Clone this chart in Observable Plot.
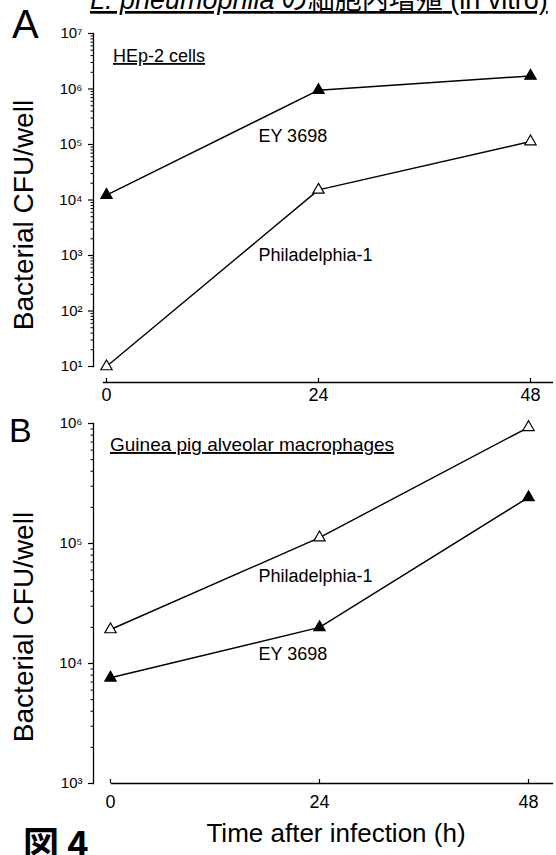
<!DOCTYPE html>
<html><head><meta charset="utf-8">
<script src="https://cdn.jsdelivr.net/npm/d3@7"></script>
<script src="https://cdn.jsdelivr.net/npm/@observablehq/plot@0.6"></script>
<style>
body{margin:0;background:#fff;}
#page{position:relative;width:556px;height:855px;overflow:hidden;background:#fff;}
#page svg{position:absolute;left:0;background:transparent;}
</style></head><body><div id="page"></div>
<script>
// ---- data ----
const hours = [0, 24, 48];
const strains = ["EY 3698", "Philadelphia-1"];
// Panel A: HEp-2 cells (CFU/well)
const hepEY = [1.23e4, 9.5e5, 1.72e6];
const hepPhil = [10, 1.52e4, 1.13e5];
// Panel B: Guinea pig alveolar macrophages (CFU/well)
const gpEY = [7.6e3, 2.0e4, 2.42e5];
const gpPhil = [1.92e4, 1.12e5, 9.3e5];
// axis ticks
const yTicksA = [1e1, 1e2, 1e3, 1e4, 1e5, 1e6, 1e7];
const yTicksB = [1e3, 1e4, 1e5, 1e6];
// curve labels (annotation anchor in data units)
const labelsA = [{label: "EY 3698", t: 17.2, cfu: 1.4e5}, {label: "Philadelphia-1", t: 17.2, cfu: 1.0e3}];
const labelsB = [{label: "Philadelphia-1", t: 17.0, cfu: 5.3e4}, {label: "EY 3698", t: 17.0, cfu: 1.19e4}];
const titleA = "HEp-2 cells";
const titleB = "Guinea pig alveolar macrophages";
const yLabel = "Bacterial CFU/well";
const xLabel = "Time after infection (h)";

const font = "'Liberation Sans', Arial, Helvetica, sans-serif";
const SUP = "⁰¹²³⁴⁵⁶⁷⁸⁹";
const fmt = d => "10" + String(Math.round(Math.log10(d))).split("").map(c => SUP[+c]).join("");
const rowsOf = (ey, ph) => [
  ...hours.map((t, i) => ({strain: strains[0], t, cfu: ey[i]})),
  ...hours.map((t, i) => ({strain: strains[1], t, cfu: ph[i]}))
];
const minorOf = ticks => ticks.slice(0, -1).flatMap(d => d3.range(2, 10).map(k => k * d));

function panel({rows, yTicks, labels, height, xRange, yRange, axisY, insetLeftY, insetBottomX, tickPad}) {
  return Plot.plot({
    width: 556, height,
    marginLeft: 93, marginRight: 4, marginTop: yRange[1], marginBottom: height - axisY,
    x: {domain: [0, 48], range: xRange},
    y: {type: "log", domain: [yTicks[0], yTicks[yTicks.length - 1]], range: yRange},
    style: {fontFamily: font, color: "black", background: "transparent", overflow: "visible"},
    marks: [
      Plot.frame({anchor: "left", insetBottom: insetBottomX, stroke: "black", strokeWidth: 1.3}),
      Plot.frame({anchor: "bottom", insetLeft: insetLeftY, stroke: "black", strokeWidth: 1.3}),
      Plot.axisY({ticks: minorOf(yTicks), tickSize: 2.5, tickFormat: () => "", label: null, strokeWidth: 1}),
      Plot.axisY({ticks: yTicks, tickSize: 5, tickPadding: 6, tickFormat: fmt, fontSize: 15, label: null, strokeWidth: 1.2}),
      // inward (upward) x ticks
      Plot.axisX({ticks: hours, tickSize: 4, dy: -4, tickFormat: () => "", label: null, strokeWidth: 1.2}),
      // x tick labels
      Plot.axisX({ticks: hours, tickSize: 0, tickPadding: tickPad, tickFormat: d => String(d), fontSize: 18, label: null}),
      Plot.line(rows, {x: "t", y: "cfu", z: "strain", stroke: "black", strokeWidth: 1.4}),
      Plot.dot(rows, {x: "t", y: "cfu", symbol: "triangle", r: 4.2, stroke: "black", strokeWidth: 1.2,
        fill: d => d.strain === strains[0] ? "black" : "white"}),
      Plot.text(labels, {x: "t", y: "cfu", text: "label", textAnchor: "start", lineAnchor: "middle", fontSize: 18, fill: "black"})
    ]
  });
}

const page = document.getElementById("page");
const A = panel({rows: rowsOf(hepEY, hepPhil), yTicks: yTicksA, labels: labelsA, height: 410,
  xRange: [106, 530], yRange: [366, 33], axisY: 382, insetLeftY: 10, insetBottomX: 16, tickPad: 6});
A.style.top = "0px";
page.appendChild(A);
const B = panel({rows: rowsOf(gpEY, gpPhil), yTicks: yTicksB, labels: labelsB, height: 455,
  xRange: [110, 528], yRange: [383, 23], axisY: 383, insetLeftY: 18, insetBottomX: 0, tickPad: 12});
B.style.top = "400px";
page.appendChild(B);

// ---- overlay texts ----
const ov = d3.create("svg").attr("width", 556).attr("height", 855)
  .style("top", "0px").style("pointer-events", "none")
  .attr("font-family", font).attr("fill", "black");
const title = ov.append("text").attr("x", 90).attr("y", 9).attr("font-size", 27)
  .style("text-decoration", "underline");
title.append("tspan").attr("font-style", "italic").text("L. pneumophila");
title.append("tspan").attr("font-family", "'Noto Sans CJK JP', sans-serif").text(" の細胞内増殖");
title.append("tspan").text(" (in vitro)");
ov.append("text").attr("x", 12).attr("y", 38).attr("font-size", 40).text("A");
ov.append("text").attr("x", 9).attr("y", 442).attr("font-size", 34).text("B");
ov.append("text").attr("x", 113).attr("y", 62).attr("font-size", 18).style("text-decoration", "underline").text(titleA);
ov.append("text").attr("x", 110).attr("y", 451).attr("font-size", 19).style("text-decoration", "underline").text(titleB);
for (const cy of [215, 627]) {
  ov.append("text").attr("transform", `translate(23,${cy}) rotate(-90)`).attr("text-anchor", "middle")
    .attr("dominant-baseline", "central").attr("font-size", 28).text(yLabel);
}
ov.append("text").attr("x", 336).attr("y", 842).attr("text-anchor", "middle").attr("font-size", 26).text(xLabel);
ov.append("text").attr("x", 23).attr("y", 858).attr("font-size", 36).attr("font-weight", "bold")
  .attr("font-family", "'Noto Sans CJK JP', sans-serif").text("図 4");
page.appendChild(ov.node());
</script></body></html>
